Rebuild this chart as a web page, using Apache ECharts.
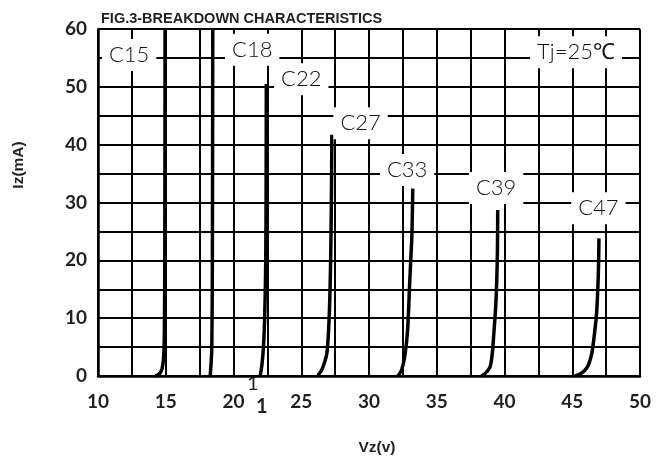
<!DOCTYPE html>
<html>
<head>
<meta charset="utf-8">
<script src="https://cdn.jsdelivr.net/npm/echarts@6/dist/echarts.min.js"></script>
<style>
  html, body { margin: 0; padding: 0; background: #fff; }
  #breakdownChart { width: 657px; height: 462px; }
</style>
</head>
<body>
<div id="breakdownChart"></div>
<script>
// 每条曲线 [Vz, Iz]
var c15 = [[14.22, 0], [14.5, 0.3], [14.72, 1.2], [14.85, 3.5], [14.9, 8], [14.93, 20], [14.95, 60]];
var c18 = [[18.28, 0], [18.34, 2], [18.4, 5], [18.44, 20], [18.47, 60]];
var c22 = [[21.97, 0], [22.1, 2], [22.21, 5], [22.3, 10], [22.38, 20], [22.41, 35], [22.42, 50.5]];
var c27 = [[26.22, 0.1], [26.5, 1], [26.75, 2.6], [26.89, 3.9], [27.02, 8], [27.13, 15.4], [27.2, 25], [27.24, 35], [27.26, 41.7]];
var c33 = [[32.12, 0], [32.4, 1], [32.67, 3.9], [32.85, 8], [32.99, 15.4], [33.1, 21], [33.16, 24], [33.2, 28], [33.23, 32.4]];
var c39 = [[38.3, 0], [38.6, 0.5], [38.94, 1.6], [39.1, 4], [39.23, 7.9], [39.35, 12], [39.43, 16.6], [39.48, 22], [39.5, 28.7]];
var c47 = [[45.2, 0], [45.6, 0.4], [45.9, 0.9], [46.19, 1.9], [46.45, 4], [46.67, 7.9], [46.8, 11], [46.88, 14.8], [46.94, 19], [46.97, 23.8]];

var curveNames = ['C15', 'C18', 'C22', 'C27', 'C33', 'C39', 'C47'];
var curveData = [c15, c18, c22, c27, c33, c39, c47];

// 标注文字及位置
var noteText = ['C15', 'C18', 'C22', 'C27', 'C33', 'C39', 'C47', 'Tj=25℃'];
var noteV = [12.3, 21.38, 25.0, 29.38, 32.81, 39.38, 46.93, 45.28];
var noteI = [55.5, 56.4, 51.3, 43.7, 35.6, 32.5, 29.0, 56.0];

var xMin = 10, xMax = 50, xStep = 5;
var yMin = 0, yMax = 60, yStep = 10;

var gridLine = { color: '#000', width: 2 };

var series = curveData.map(function (d, i) {
  return {
    name: curveNames[i],
    type: 'line',
    data: d,
    symbol: 'none',
    smooth: 0.3,
    lineStyle: { color: '#000', width: 3.5 },
    z: 3
  };
});

series.push({
  name: 'notes',
  type: 'scatter',
  symbol: 'rect',
  symbolSize: 0,
  itemStyle: { color: '#fff', opacity: 1 },
  z: 5,
  data: noteText.map(function (t, i) {
    return { name: t, value: [noteV[i], noteI[i]] };
  }),
  label: {
    show: true,
    position: 'inside',
    formatter: '{b}',
    fontFamily: 'Lato',
    fontWeight: 300,
    fontSize: 22,
    color: '#111',
    textBorderWidth: 0,
    backgroundColor: '#ffffff',
    padding: [6, 7, 4, 7]
  },
  emphasis: { disabled: true }
});

var chart = echarts.init(document.getElementById('breakdownChart'));
chart.setOption({
  animation: false,
  title: {
    text: 'FIG.3-BREAKDOWN CHARACTERISTICS',
    left: 96,
    top: 6,
    textStyle: { fontFamily: 'Liberation Sans', fontWeight: 'bold', fontSize: 14.5, color: '#231f20' }
  },
  grid: { left: 98, top: 29, right: 17, bottom: 86 },
  xAxis: {
    type: 'value',
    min: xMin, max: xMax, interval: xStep,
    axisLine: { show: true, lineStyle: { color: '#000', width: 2.5 } },
    axisTick: { show: false },
    axisLabel: { margin: 16, fontFamily: 'Lato', fontWeight: 'bold', fontSize: 19, color: '#231f20' },
    splitLine: { show: true, lineStyle: gridLine },
    minorTick: { show: false, splitNumber: 2 },
    minorSplitLine: { show: true, lineStyle: gridLine }
  },
  yAxis: {
    type: 'value',
    min: yMin, max: yMax, interval: yStep,
    axisLine: { show: true, lineStyle: { color: '#000', width: 2.5 } },
    axisTick: { show: false },
    axisLabel: { margin: 11, fontFamily: 'Lato', fontWeight: 'bold', fontSize: 19, color: '#231f20' },
    splitLine: { show: true, lineStyle: gridLine },
    minorTick: { show: false, splitNumber: 2 },
    minorSplitLine: { show: true, lineStyle: gridLine }
  },
  series: series,
  graphic: [
    // 坐标轴名称
    { type: 'text', x: 19, y: 165, rotation: Math.PI / 2,
      style: { text: 'Iz(mA)', fontFamily: 'Liberation Sans', fontWeight: 'bold', fontSize: 15.5, fill: '#231f20', align: 'center', verticalAlign: 'middle' } },
    { type: 'text', x: 377, y: 448,
      style: { text: 'Vz(v)', fontFamily: 'Liberation Sans', fontWeight: 'bold', fontSize: 15.5, fill: '#231f20', align: 'center', verticalAlign: 'middle' } },
    // 原图中的两个零散字符
    { type: 'text', left: 247, top: 374, style: { text: '1', fontFamily: 'Lato', fontSize: 20, fill: '#231f20' } },
    { type: 'text', left: 256, top: 397, style: { text: '1', fontFamily: 'Lato', fontWeight: 'bold', fontSize: 20, fill: '#231f20' } }
  ]
});
</script>
</body>
</html>
